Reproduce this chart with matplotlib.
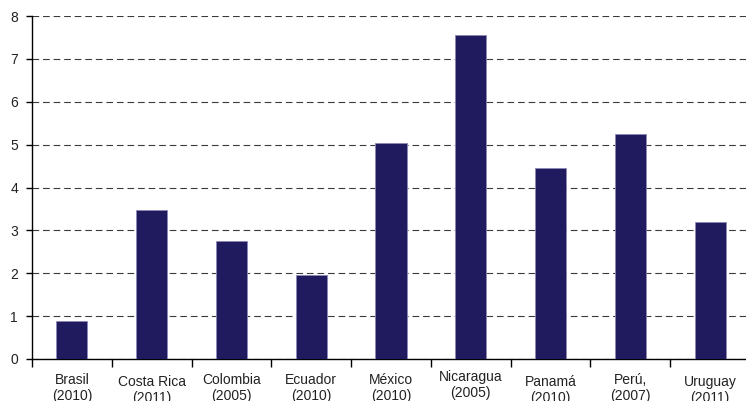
import matplotlib
matplotlib.use("Agg")
import matplotlib.pyplot as plt
import matplotlib.transforms as mtransforms
from matplotlib.ticker import FixedLocator

plt.rcParams['font.family'] = ['Liberation Sans', 'DejaVu Sans']

# datos
paises = ['Brasil', 'Costa Rica', 'Colombia', 'Ecuador', 'México',
          'Nicaragua', 'Panamá', 'Perú,', 'Uruguay']
anios = ['(2010)', '(2011)', '(2005)', '(2010)', '(2010)',
         '(2005)', '(2010)', '(2007)', '(2011)']
valores = [0.89, 3.48, 2.75, 1.96, 5.04, 7.56, 4.45, 5.25, 3.20]

# pequeño desplazamiento vertical de cada etiqueta (pt)
desplaz = [0, -1.5, 0, 0, 0, 2, -1.5, 0, -1.5]

fig = plt.figure(figsize=(7.46, 4.01), dpi=100)
ax = fig.add_axes([32 / 746, 42 / 401, 718 / 746, 343 / 401])

x = range(len(paises))
ax.bar(x, valores, width=0.39, color='#1f1b5e', edgecolor='#8c88b8',
       linewidth=0.6, zorder=3)

ax.set_xlim(-0.5, len(paises) - 0.5)
ax.set_ylim(0, 8)
ax.set_yticks(range(0, 9))
ax.yaxis.grid(True, linestyle=(0, (6, 3.5)), color='#3a3a3a', linewidth=0.8)
ax.set_axisbelow(True)

ax.spines['top'].set_visible(False)
ax.spines['right'].set_visible(False)
for s in ['left', 'bottom']:
    ax.spines[s].set_linewidth(1.0)
    ax.spines[s].set_color('black')

ax.tick_params(axis='y', length=4, width=1, labelsize=10, pad=6,
               labelcolor='#222222')
ax.set_xticks([])
ax.xaxis.set_minor_locator(FixedLocator([i - 0.5 for i in range(len(paises) + 1)]))
ax.tick_params(axis='x', which='minor', length=5.5, width=1, direction='out')

trans = mtransforms.blended_transform_factory(ax.transData, ax.transAxes)
for i, (p, a) in enumerate(zip(paises, anios)):
    ax.annotate(p + '\n' + a, xy=(i, 0), xycoords=trans,
                xytext=(0, -10 + desplaz[i]), textcoords='offset points',
                ha='center', va='top', fontsize=10, linespacing=1.15,
                color='#222222', annotation_clip=False)

fig.savefig('out.png', dpi=100)
